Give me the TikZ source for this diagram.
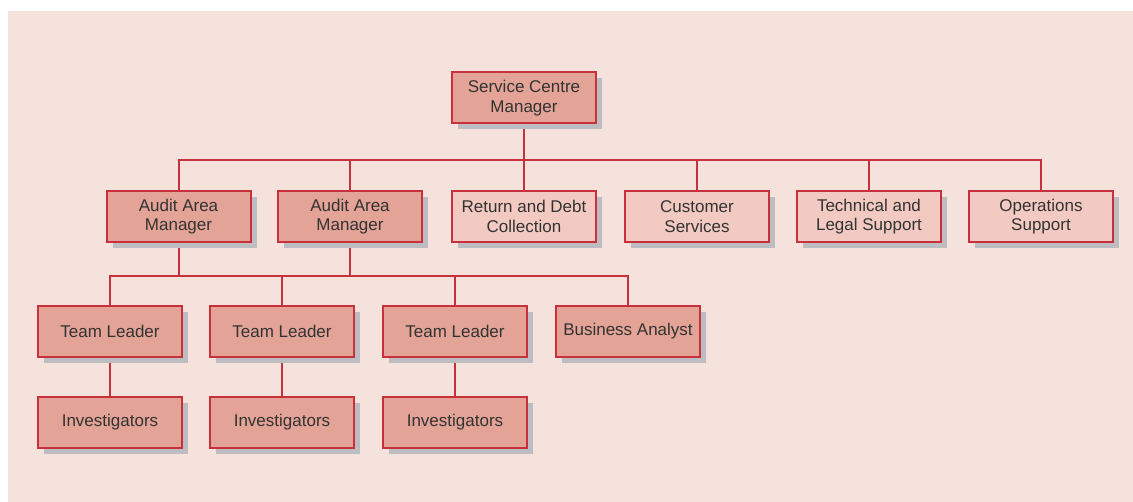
\documentclass[tikz,border=0pt]{standalone}
\usepackage{fontspec}
\setmainfont{Liberation Sans}
\usetikzlibrary{shadows}
\definecolor{bgpink}{HTML}{F5E2DC}
\definecolor{darkfill}{HTML}{E3A396}
\definecolor{lightfill}{HTML}{F2CAC1}
\definecolor{edgered}{HTML}{C8313C}
\definecolor{shadowgray}{HTML}{BDBDC1}
\definecolor{txtgray}{HTML}{333333}
\pgfdeclarelayer{background}
\pgfdeclarelayer{bg0}
\pgfsetlayers{bg0,background,main}
\tikzset{
  box/.style={draw=edgered, line width=2pt, minimum width=144pt, minimum height=51pt,
    inner sep=0pt, align=center, text=txtgray,
    font=\fontsize{17}{19.5}\selectfont,
    general shadow={fill=shadowgray, draw=none, shadow xshift=6pt, shadow yshift=-6pt}},
  darkbox/.style={box, fill=darkfill},
  lightbox/.style={box, fill=lightfill},
  conn/.style={draw=edgered, line width=2pt}
}
\begin{document}
\begin{tikzpicture}[x=1pt,y=-1pt]
\begin{pgfonlayer}{bg0}
\fill[white] (0,0) rectangle (1133,502);
\fill[bgpink] (8,11) rectangle (1133,502);
\end{pgfonlayer}
\useasboundingbox (0,0) rectangle (1133,502);

\node[darkbox] (scm) at (524,98) {Service Centre\\Manager};

\node[darkbox] (aam1) at (178.5,216.5) {Audit Area\\Manager};
\node[darkbox] (aam2) at (350,216.5) {Audit Area\\Manager};
\node[lightbox] (rdc) at (524,216.5) {Return and Debt\\Collection};
\node[lightbox] (cs) at (697,216.5) {Customer\\Services};
\node[lightbox] (tls) at (869,216.5) {Technical and\\Legal Support};
\node[lightbox] (ops) at (1041,216.5) {Operations\\Support};

\node[darkbox] (tl1) at (110,331.5) {Team Leader};
\node[darkbox] (tl2) at (282,331.5) {Team Leader};
\node[darkbox] (tl3) at (455,331.5) {Team Leader};
\node[darkbox] (ba) at (628,331.5) {Business Analyst};

\node[darkbox] (inv1) at (110,422.5) {Investigators};
\node[darkbox] (inv2) at (282,422.5) {Investigators};
\node[darkbox] (inv3) at (455,422.5) {Investigators};

\coordinate (bus1) at (524,160);
\coordinate (bus2) at (350,276);

\begin{pgfonlayer}{background}
\draw[conn] (scm.south) -- (bus1);
\draw[conn] (aam1.north) -- (aam1.north |- bus1) -- (ops.north |- bus1) -- (ops.north);
\foreach \n in {aam2,rdc,cs,tls} \draw[conn] (\n.north) -- (\n.north |- bus1);

\draw[conn] (aam2.south) -- (bus2);
\draw[conn] (aam1.south) -- (aam1.south |- bus2);
\draw[conn] (tl1.north) -- (tl1.north |- bus2) -- (ba.north |- bus2) -- (ba.north);
\foreach \n in {tl2,tl3} \draw[conn] (\n.north) -- (\n.north |- bus2);

\draw[conn] (tl1.south) -- (inv1.north);
\draw[conn] (tl2.south) -- (inv2.north);
\draw[conn] (tl3.south) -- (inv3.north);
\end{pgfonlayer}
\end{tikzpicture}
\end{document}
